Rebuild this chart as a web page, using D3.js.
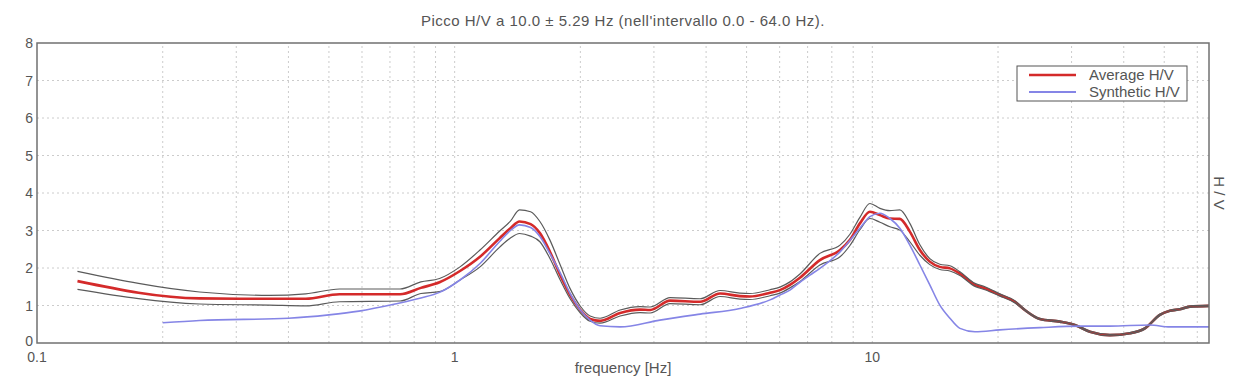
<!DOCTYPE html>
<html>
<head>
<meta charset="utf-8">
<script src="https://cdn.jsdelivr.net/npm/d3@7"></script>
<style>
    body { margin: 0; background: #fff; }
    svg { display: block; font-family: "Liberation Sans", Arial, sans-serif; }
</style>
</head>
<body>
<div id="chart"></div>
<script>
// frequencies (Hz) of the measured curve
const freqs = [0.125, 0.245, 0.36, 0.44, 0.53, 0.74, 0.83, 0.92, 1.03, 1.15, 1.28, 1.36, 1.43, 1.52, 1.60, 1.69, 1.79, 1.89, 2.0, 2.11,
    2.23, 2.49, 2.78, 2.94, 3.28, 3.87, 4.32, 4.82, 5.09, 5.69, 6.01, 6.35, 6.71, 7.49, 8.37, 8.84, 9.34, 9.87, 10.43, 11.02,
    11.64, 12.3, 13.0, 13.73, 14.51, 15.34, 16.21, 17.61, 18.61, 20.21, 21.95, 23.19, 25.19, 28.13, 30.55, 33.19, 37.06, 41.38, 44.95, 48.81,
    51.58, 54.51, 57.59, 64];
const avgHV = [1.65, 1.19, 1.18, 1.18, 1.30, 1.30, 1.47, 1.62, 1.92, 2.30, 2.79, 3.06, 3.24, 3.17, 2.93, 2.44, 1.81, 1.28, 0.88, 0.64,
    0.59, 0.80, 0.89, 0.88, 1.13, 1.10, 1.32, 1.25, 1.24, 1.34, 1.41, 1.55, 1.74, 2.21, 2.48, 2.75, 3.19, 3.50, 3.41, 3.32,
    3.31, 2.97, 2.48, 2.17, 2.03, 1.99, 1.85, 1.55, 1.46, 1.28, 1.10, 0.88, 0.64, 0.57, 0.48, 0.30, 0.21, 0.26, 0.39, 0.75,
    0.86, 0.90, 0.97, 0.99];
const upperHV = [1.91, 1.36, 1.27, 1.31, 1.44, 1.44, 1.63, 1.72, 2.03, 2.48, 2.98, 3.25, 3.55, 3.50, 3.24, 2.75, 2.08, 1.45, 0.98, 0.72,
    0.66, 0.88, 0.97, 0.96, 1.21, 1.18, 1.40, 1.33, 1.32, 1.42, 1.49, 1.63, 1.84, 2.39, 2.61, 2.90, 3.35, 3.72, 3.59, 3.53,
    3.55, 3.19, 2.62, 2.25, 2.10, 2.06, 1.90, 1.59, 1.50, 1.31, 1.13, 0.90, 0.66, 0.59, 0.50, 0.32, 0.23, 0.28, 0.41, 0.77,
    0.88, 0.92, 0.99, 1.01];
const lowerHV = [1.43, 1.04, 1.01, 0.99, 1.10, 1.12, 1.32, 1.37, 1.68, 2.03, 2.55, 2.80, 2.92, 2.85, 2.70, 2.26, 1.68, 1.18, 0.80, 0.58,
    0.53, 0.72, 0.81, 0.80, 1.05, 1.02, 1.24, 1.17, 1.16, 1.26, 1.33, 1.47, 1.64, 2.08, 2.30, 2.60, 3.02, 3.32, 3.22, 3.10,
    3.01, 2.70, 2.34, 2.09, 1.96, 1.92, 1.80, 1.51, 1.42, 1.25, 1.07, 0.86, 0.62, 0.55, 0.46, 0.28, 0.19, 0.24, 0.37, 0.73,
    0.84, 0.88, 0.95, 0.97];

// synthetic curve
const synFreqs = [0.2, 0.245, 0.40, 0.50, 0.59, 0.72, 0.83, 0.92, 1.03, 1.15, 1.28, 1.36, 1.43, 1.52, 1.60, 1.69, 1.79, 1.89, 2.0, 2.11,
    2.23, 2.49, 3.1, 3.87, 4.82, 5.69, 6.01, 6.35, 6.71, 7.09, 7.49, 8.37, 9.34, 9.87, 10.43, 11.02, 11.64, 12.3, 13.0, 13.73,
    14.51, 15.34, 16.21, 17.61, 20.21, 25.19, 31.41, 37.06, 46.2, 51.58, 64];
const synHV = [0.54, 0.60, 0.66, 0.75, 0.85, 1.04, 1.20, 1.35, 1.68, 2.12, 2.70, 3.00, 3.15, 3.08, 2.84, 2.39, 1.87, 1.32, 0.88, 0.61,
    0.46, 0.43, 0.61, 0.77, 0.92, 1.15, 1.28, 1.41, 1.62, 1.81, 1.99, 2.43, 3.06, 3.37, 3.46, 3.32, 3.06, 2.61, 2.08, 1.55,
    1.01, 0.66, 0.39, 0.30, 0.35, 0.41, 0.45, 0.45, 0.48, 0.43, 0.43];

const xTickLabels = [0.1, 1, 10];
const yTicks = [0, 1, 2, 3, 4, 5, 6, 7, 8];
const legendNames = ['Average H/V', 'Synthetic H/V'];
const titleText = "Picco H/V a 10.0 \u00b1 5.29 Hz (nell'intervallo 0.0 - 64.0 Hz).";

const w = 1245,
    h = 387,
    margin = { top: 43, right: 36, bottom: 44, left: 37 };

const svg = d3.select('#chart')
    .append('svg')
    .attr('width', w)
    .attr('height', h);

const xScale = d3.scaleLog()
    .domain([0.1, 64])
    .range([margin.left, w - margin.right]);

const yScale = d3.scaleLinear()
    .domain([0, 8])
    .range([h - margin.bottom, margin.top]);

const textColor = '#555';

// grid
const gridX = [];
[0.1, 1, 10].forEach((dec) => {
    for (let k = 2; k <= 9; k++) {
        if (dec * k < 64) gridX.push(dec * k);
    }
});
gridX.push(1, 10);

svg.append('g')
    .selectAll('line')
    .data(gridX)
    .enter()
    .append('line')
    .attr('x1', (d) => xScale(d))
    .attr('x2', (d) => xScale(d))
    .attr('y1', yScale(0))
    .attr('y2', yScale(8))
    .attr('stroke', '#cccccc')
    .attr('stroke-dasharray', '2,3');

svg.append('g')
    .selectAll('line')
    .data(yTicks.slice(1, -1))
    .enter()
    .append('line')
    .attr('x1', xScale(0.1))
    .attr('x2', xScale(64))
    .attr('y1', (d) => yScale(d))
    .attr('y2', (d) => yScale(d))
    .attr('stroke', '#cccccc')
    .attr('stroke-dasharray', '2,3');

// curves
const line = d3.line()
    .x((d) => xScale(d[0]))
    .y((d) => yScale(d[1]))
    .curve(d3.curveMonotoneX);

const zip = (a, b) => a.map((v, i) => [v, b[i]]);

svg.append('path')
    .datum(zip(freqs, avgHV))
    .attr('d', line)
    .attr('fill', 'none')
    .attr('stroke', '#d42a2a')
    .attr('stroke-width', 2.6);

[upperHV, lowerHV].forEach((vals) => {
    svg.append('path')
        .datum(zip(freqs, vals))
        .attr('d', line)
        .attr('fill', 'none')
        .attr('stroke', '#5a5a5a')
        .attr('stroke-width', 1.2);
});

svg.append('path')
    .datum(zip(synFreqs, synHV))
    .attr('d', line)
    .attr('fill', 'none')
    .attr('stroke', '#8585e6')
    .attr('stroke-width', 1.6);

// frame
svg.append('rect')
    .attr('x', xScale(0.1))
    .attr('y', yScale(8))
    .attr('width', xScale(64) - xScale(0.1))
    .attr('height', yScale(0) - yScale(8))
    .attr('fill', 'none')
    .attr('stroke', '#707070')
    .attr('stroke-width', 1.5);

// y labels
svg.append('g')
    .selectAll('text')
    .data(yTicks)
    .enter()
    .append('text')
    .attr('x', margin.left - 4)
    .attr('y', (d) => yScale(d) + (d === 0 ? 3 : 5))
    .attr('text-anchor', 'end')
    .attr('fill', textColor)
    .style('font-size', '14px')
    .text((d) => d);

// x labels
svg.append('g')
    .selectAll('text')
    .data(xTickLabels)
    .enter()
    .append('text')
    .attr('x', (d) => xScale(d))
    .attr('y', h - margin.bottom + 19)
    .attr('text-anchor', 'middle')
    .attr('fill', textColor)
    .style('font-size', '14px')
    .text((d) => d);

svg.append('text')
    .attr('x', (xScale(0.1) + xScale(64)) / 2)
    .attr('y', h - 14)
    .attr('text-anchor', 'middle')
    .attr('fill', textColor)
    .style('font-size', '15px')
    .text('frequency [Hz]');

svg.append('text')
    .attr('transform', 'translate(' + (w - margin.right + 5) + ',' + ((yScale(0) + yScale(8)) / 2) + ') rotate(90)')
    .attr('text-anchor', 'middle')
    .attr('fill', textColor)
    .style('font-size', '15px')
    .text('H / V');

svg.append('text')
    .attr('x', (xScale(0.1) + xScale(64)) / 2)
    .attr('y', 26)
    .attr('text-anchor', 'middle')
    .attr('fill', textColor)
    .style('font-size', '15px')
    .style('letter-spacing', '0.5px')
    .text(titleText);

// legend
const legend = svg.append('g').attr('transform', 'translate(1017,66)');
legend.append('rect')
    .attr('width', 170)
    .attr('height', 35)
    .attr('fill', '#fff')
    .attr('stroke', '#555');
const legendColors = ['#d42a2a', '#8585e6'];
legendNames.forEach((name, i) => {
    legend.append('line')
        .attr('x1', 12)
        .attr('x2', 59)
        .attr('y1', 9 + i * 17)
        .attr('y2', 9 + i * 17)
        .attr('stroke', legendColors[i])
        .attr('stroke-width', i === 0 ? 2.6 : 2);
    legend.append('text')
        .attr('x', 72)
        .attr('y', 14 + i * 17)
        .attr('fill', textColor)
        .style('font-size', '15px')
        .text(name);
});
</script>
</body>
</html>
